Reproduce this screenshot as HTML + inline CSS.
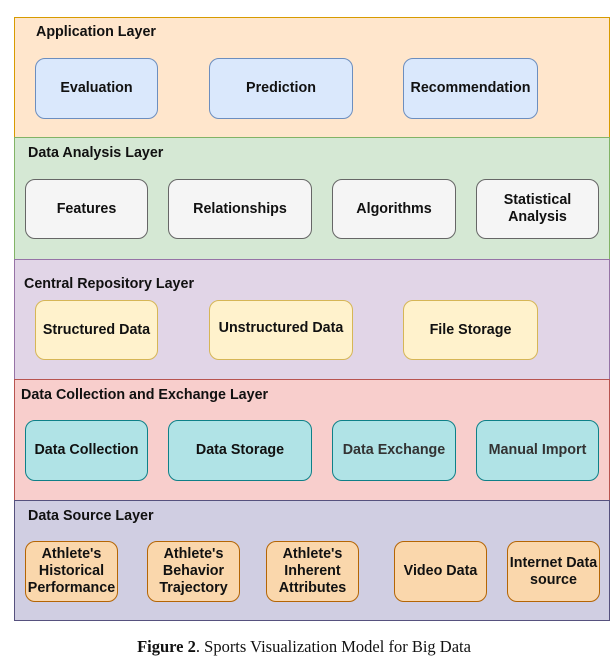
<!DOCTYPE html>
<html><head><style>
body{margin:0;width:616px;height:661px;background:#fff;position:relative;font-family:"Liberation Sans",Arial,sans-serif;overflow:hidden}
.l{position:absolute;left:14px;width:596px;box-sizing:border-box;border:1.5px solid}
.t{position:absolute;font-weight:bold;font-size:14.3px;color:#111}
.b{position:absolute;box-sizing:border-box;border:1.3px solid;border-radius:10px;display:flex;align-items:center;justify-content:center;text-align:center;font-weight:bold;font-size:14.3px;line-height:17px;color:#111;white-space:nowrap}
.a{background:#dae8fc;border-color:#6c8ebf}
.g{background:#f5f5f5;border-color:#666}
.y{background:#fff2cc;border-color:#d6b656}
.c{background:#b0e3e6;border-color:#0e8088}
.o{background:#fad7ac;border-color:#b46504}
</style></head><body>
<div class="l" style="top:17px;height:121px;background:#ffe6cc;border-color:#d79b00"></div>
<div class="l" style="top:137px;height:123px;background:#d5e8d4;border-color:#82b366"></div>
<div class="l" style="top:259px;height:121px;background:#e1d5e7;border-color:#9673a6"></div>
<div class="l" style="top:379px;height:122px;background:#f8cecc;border-color:#b85450"></div>
<div class="l" style="top:500px;height:121px;background:#d0cee2;border-color:#56517e"></div>

<div class="t" style="left:36px;top:24px">Application Layer</div>
<div class="b a" style="left:35px;top:58px;width:123px;height:61px">Evaluation</div>
<div class="b a" style="left:209px;top:58px;width:144px;height:61px">Prediction</div>
<div class="b a" style="left:403px;top:58px;width:135px;height:61px">Recommendation</div>

<div class="t" style="left:28px;top:145px">Data Analysis Layer</div>
<div class="b g" style="left:25px;top:179px;width:123px;height:60px">Features</div>
<div class="b g" style="left:168px;top:179px;width:144px;height:60px">Relationships</div>
<div class="b g" style="left:332px;top:179px;width:124px;height:60px">Algorithms</div>
<div class="b g" style="left:476px;top:179px;width:123px;height:60px">Statistical<br>Analysis</div>

<div class="t" style="left:24px;top:276px">Central Repository Layer</div>
<div class="b y" style="left:35px;top:300px;width:123px;height:60px">Structured Data</div>
<div class="b y" style="left:209px;top:300px;width:144px;height:60px;padding-bottom:4px">Unstructured Data</div>
<div class="b y" style="left:403px;top:300px;width:135px;height:60px">File Storage</div>

<div class="t" style="left:21px;top:387px">Data Collection and Exchange Layer</div>
<div class="b c" style="left:25px;top:420px;width:123px;height:61px">Data Collection</div>
<div class="b c" style="left:168px;top:420px;width:144px;height:61px">Data Storage</div>
<div class="b c" style="left:332px;top:420px;width:124px;height:61px;color:#333">Data Exchange</div>
<div class="b c" style="left:476px;top:420px;width:123px;height:61px;color:#333">Manual Import</div>

<div class="t" style="left:28px;top:508px">Data Source Layer</div>
<div class="b o" style="left:25px;top:541px;width:93px;height:61px">Athlete's<br>Historical<br>Performance</div>
<div class="b o" style="left:147px;top:541px;width:93px;height:61px">Athlete's<br>Behavior<br>Trajectory</div>
<div class="b o" style="left:266px;top:541px;width:93px;height:61px">Athlete's<br>Inherent<br>Attributes</div>
<div class="b o" style="left:394px;top:541px;width:93px;height:61px">Video Data</div>
<div class="b o" style="left:507px;top:541px;width:93px;height:61px">Internet Data<br>source</div>

<div style="position:absolute;left:0;width:608px;top:637px;text-align:center;font-family:'Liberation Serif',serif;font-size:16.5px;color:#111"><b>Figure 2</b>. Sports Visualization Model for Big Data</div>
</body></html>
